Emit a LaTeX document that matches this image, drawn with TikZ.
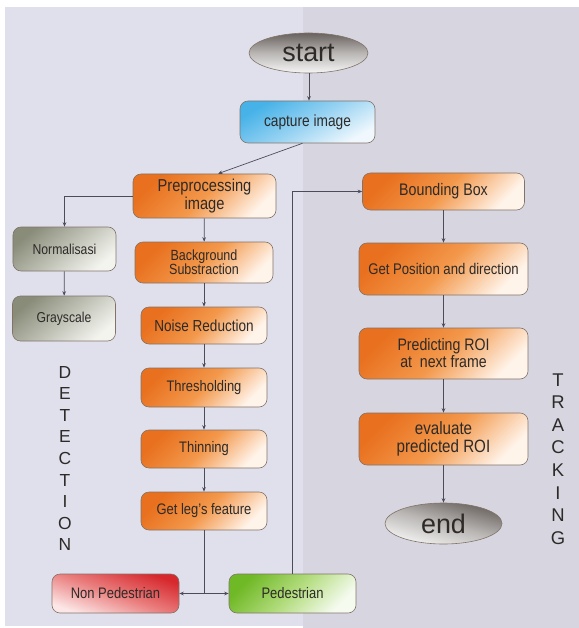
\documentclass[tikz,border=0pt]{standalone}
\usepackage{fontspec}
\setmainfont{Liberation Sans}[FakeStretch=0.85]
\newfontfamily\plainfont{Liberation Sans}
\usetikzlibrary{shapes.geometric,arrows.meta,calc}
\definecolor{panelL}{RGB}{224,224,237}
\definecolor{panelR}{RGB}{214,213,224}
\definecolor{boxline}{RGB}{130,115,105}
\definecolor{txt}{RGB}{45,42,40}
\definecolor{lin}{RGB}{75,75,90}
\definecolor{orA}{RGB}{232,112,30}
\definecolor{orB}{RGB}{243,152,75}
\definecolor{orC}{RGB}{255,244,234}
\definecolor{blA}{RGB}{70,178,232}
\definecolor{blB}{RGB}{150,210,242}
\definecolor{blC}{RGB}{240,248,253}
\definecolor{grA}{RGB}{138,140,122}
\definecolor{grB}{RGB}{190,192,180}
\definecolor{grC}{RGB}{244,244,239}
\definecolor{rdA}{RGB}{214,40,45}
\definecolor{rdB}{RGB}{234,125,125}
\definecolor{rdC}{RGB}{252,230,230}
\definecolor{gnA}{RGB}{112,185,38}
\definecolor{gnB}{RGB}{178,220,125}
\definecolor{gnC}{RGB}{246,251,240}
\definecolor{elA}{RGB}{105,98,94}
\definecolor{elB}{RGB}{185,182,180}
\definecolor{elC}{RGB}{246,246,246}
\begin{document}
\begin{tikzpicture}[x=1bp,y=-1bp,
  box/.style={draw=boxline, line width=0.6bp, rounded corners=8bp, align=center,
    text=txt, inner sep=1bp, font=\fontsize{15.3}{17}\selectfont},
  orangebox/.style={box, top color=orA, bottom color=orC, middle color=orB, shading angle=45},
  bluebox/.style={box, top color=blA, bottom color=blC, middle color=blB, shading angle=30},
  greybox/.style={box, top color=grA, bottom color=grC, middle color=grB, shading angle=40},
  redbox/.style={box, top color=rdA, bottom color=rdC, middle color=rdB, shading angle=-20},
  greenbox/.style={box, top color=gnA, bottom color=gnC, middle color=gnB, shading angle=45},
  term/.style={ellipse, draw=boxline, line width=0.6bp, inner sep=0pt, text=txt,
    top color=elA, bottom color=elC, middle color=elB, shading angle=0,
    font=\plainfont\fontsize{27}{29}\selectfont},
  conn/.style={draw=lin, line width=0.7bp, -{Stealth[length=4.5bp,width=3.6bp]}},
  plain/.style={draw=lin, line width=0.7bp},
  vword/.style={align=center, text=txt}
]
\useasboundingbox (0,0) rectangle (579,628);
\fill[white] (0,0) rectangle (579,628);
\fill[panelL] (5,7) rectangle (303,626);
\fill[panelR] (303,7) rectangle (579,628);

% terminals
\node[term, minimum width=119bp, minimum height=40bp] (start) at (308.5,53) {start};
\node[term, minimum width=117bp, minimum height=41bp, shading angle=-15] (end) at (443.5,523.5) {end};

% detection side
\node[bluebox, minimum width=135bp, minimum height=42bp, font=\fontsize{16.2}{18}\selectfont] (cap) at (307.5,122) {capture image};
\node[orangebox, minimum width=143bp, minimum height=44bp, font=\fontsize{17.3}{17.5}\selectfont] (prep) at (204.5,196) {Preprocessing\\image};
\node[greybox, minimum width=103bp, minimum height=44bp, font=\fontsize{14.4}{16}\selectfont] (norm) at (64.5,249) {Normalisasi};
\node[greybox, minimum width=103bp, minimum height=45bp, font=\fontsize{14.4}{16}\selectfont] (gray) at (64,318.5) {Grayscale};
\node[orangebox, minimum width=138bp, minimum height=41bp, font=\fontsize{14.8}{14.5}\selectfont] (bg) at (204,262.5) {Background\\Substraction};
\node[orangebox, minimum width=126bp, minimum height=37bp, font=\fontsize{16}{17}\selectfont] (noise) at (204,325.5) {Noise Reduction};
\node[orangebox, minimum width=126bp, minimum height=39bp] (thr) at (204,387.5) {Thresholding};
\node[orangebox, minimum width=126bp, minimum height=38bp] (thin) at (204,449) {Thinning};
\node[orangebox, minimum width=126bp, minimum height=38bp] (leg) at (204,511) {Get leg’s feature};
\node[redbox, minimum width=127bp, minimum height=39bp] (nonped) at (115.5,593.5) {Non Pedestrian};
\node[greenbox, minimum width=127bp, minimum height=39bp] (ped) at (292.5,593.5) {Pedestrian};

% tracking side
\node[orangebox, minimum width=162bp, minimum height=37bp, font=\fontsize{16.8}{18}\selectfont] (bbox) at (443.5,191.5) {Bounding Box};
\node[orangebox, minimum width=169bp, minimum height=52bp, font=\fontsize{15.5}{17}\selectfont] (pos) at (443.5,269) {Get Position and direction};
\node[orangebox, minimum width=169bp, minimum height=51bp, font=\fontsize{16.7}{17}\selectfont] (pred) at (443.5,353.5) {Predicting ROI\\at\ \ next frame};
\node[orangebox, minimum width=169bp, minimum height=52bp, font=\fontsize{17.9}{18}\selectfont] (eval) at (443.5,439) {evaluate\\predicted ROI};

% vertical words
\node[vword, font=\plainfont\fontsize{17.5}{21.6}\selectfont] (det) at (65,458.5) {D\\E\\T\\E\\C\\T\\I\\O\\N};
\node[vword, font=\plainfont\fontsize{18.5}{22.6}\selectfont] (trk) at (558,459) {T\\R\\A\\C\\K\\I\\N\\G};

% connectors
\draw[conn] (start.south -| 309,0) -- (cap.north -| 309,0);
\draw[conn] ($(cap.south)+(-5,0)$) -- ($(prep.north)+(13.5,0)$);
\draw[conn] (prep.west) -| (norm.north);
\draw[conn] (norm) -- (gray);
\draw[conn] (prep) -- (bg);
\draw[conn] (bg) -- (noise);
\draw[conn] (noise) -- (thr);
\draw[conn] (thr) -- (thin);
\draw[conn] (thin) -- (leg);
\coordinate (split) at (204,593.5);
\draw[plain] (leg.south) -- (split);
\draw[conn] (split) -- (nonped.east);
\draw[conn] (split) -- (ped.west);
\draw[conn] (ped.north) |- (bbox.west);
\draw[conn] (bbox) -- (pos);
\draw[conn] (pos) -- (pred);
\draw[conn] (pred) -- (eval);
\draw[conn] (eval) -- (end);
\end{tikzpicture}
\end{document}
